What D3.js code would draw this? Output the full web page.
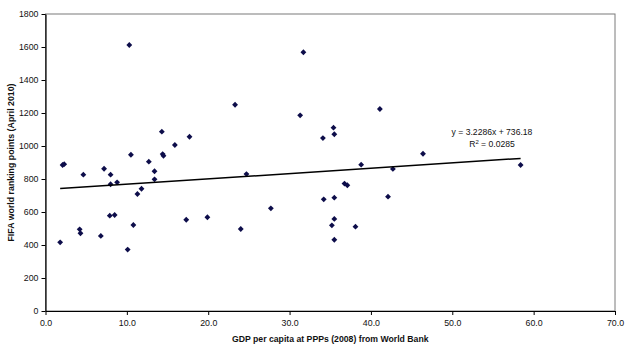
<!DOCTYPE html>
<html>
<head>
<meta charset="utf-8">
<script src="https://cdn.jsdelivr.net/npm/d3@7"></script>
<style>
  body { margin: 0; background: #fff; }
  svg text { font-family: "Liberation Sans", Arial, sans-serif; fill: #111; }
</style>
</head>
<body>
<svg id="chart" width="626" height="351"></svg>
<script>
// ---- data ----
const gdp = [1.8, 2.1, 2.3, 4.2, 4.3, 4.65, 6.8, 7.2, 7.9, 8.0, 8.0, 8.5, 8.8,
  10.1, 10.3, 10.5, 10.8, 11.3, 11.8, 12.7, 13.4, 13.4, 14.3, 14.4, 14.5, 15.9,
  17.3, 17.7, 19.9, 23.3, 24.0, 24.7, 27.7, 31.3, 31.7, 34.1, 34.2, 35.2, 35.4,
  35.5, 35.5, 35.5, 35.5, 36.75, 37.1, 38.1, 38.8, 41.1, 42.1, 42.7, 46.4, 58.4];
const fifa = [416, 885, 890, 495, 471, 826, 455, 862, 578, 826, 768, 582, 780,
  372, 1612, 947, 521, 709, 741, 905, 847, 798, 1087, 951, 941, 1006,
  553, 1056, 568, 1250, 497, 830, 622, 1186, 1568, 1048, 677, 519, 1111,
  1071, 687, 558, 432, 772, 762, 511, 887, 1224, 693, 861, 953, 885];

const xTicks = [0, 10, 20, 30, 40, 50, 60, 70];
const yTicks = [0, 200, 400, 600, 800, 1000, 1200, 1400, 1600, 1800];

const slope = 3.2286, intercept = 736.18;
const eqText = "y = 3.2286x + 736.18";

const xTitle = "GDP per capita at PPPs (2008) from World Bank";
const yTitle = "FIFA world ranking points (April 2010)";

// ---- layout ----
const svg = d3.select("#chart");
const plotL = 45.5, plotR = 615, plotT = 14, plotB = 311;

const x = d3.scaleLinear().domain([0, 70]).range([plotL, plotR]);
const y = d3.scaleLinear().domain([0, 1800]).range([plotB, plotT]);

// plot area border (grey)
svg.append("rect")
  .attr("x", plotL).attr("y", plotT)
  .attr("width", plotR - plotL).attr("height", plotB - plotT)
  .attr("fill", "none").attr("stroke", "#7a7a7a").attr("stroke-width", 1);

// axes
const xAxis = d3.axisBottom(x).tickValues(xTicks).tickFormat(d3.format(".1f"))
  .tickSize(4).tickSizeOuter(0).tickPadding(5);
const yAxis = d3.axisLeft(y).tickValues(yTicks).tickFormat(d3.format("d"))
  .tickSize(4).tickSizeOuter(0).tickPadding(3);

const gx = svg.append("g").attr("transform", `translate(0,${plotB})`).call(xAxis);
const gy = svg.append("g").attr("transform", `translate(${plotL},0)`).call(yAxis);

[gx, gy].forEach(g => {
  g.select(".domain").attr("stroke", "#000").attr("stroke-width", 1.2);
  g.selectAll(".tick line").attr("stroke", "#000");
  g.selectAll(".tick text")
    .style("font-family", "'Liberation Sans', Arial, sans-serif")
    .style("font-size", "8.8px").attr("fill", "#111");
});
gy.selectAll(".tick text").attr("x", -7);

// points
svg.append("g").selectAll("path")
  .data(gdp.map((g, i) => [g, fifa[i]]))
  .enter().append("path")
  .attr("d", d3.symbol(d3.symbolSquare, 17))
  .attr("transform", d => `translate(${x(d[0])},${y(d[1])}) rotate(45)`)
  .attr("fill", "#0d0d4a");

// linear trend line over the data range
const x0 = d3.min(gdp), x1 = d3.max(gdp);
svg.append("line")
  .attr("x1", x(x0)).attr("y1", y(slope * x0 + intercept))
  .attr("x2", x(x1)).attr("y2", y(slope * x1 + intercept))
  .attr("stroke", "#000").attr("stroke-width", 1.5);

// equation label
svg.append("text")
  .attr("x", 492).attr("y", 135)
  .attr("text-anchor", "middle").style("font-size", "8.6px")
  .text(eqText);
const r2 = svg.append("text")
  .attr("x", 492).attr("y", 146.5)
  .attr("text-anchor", "middle").style("font-size", "8.6px");
r2.append("tspan").text("R");
r2.append("tspan").text("2").attr("dy", -3).style("font-size", "6px");
r2.append("tspan").text(" = 0.0285").attr("dy", 3);

// axis titles
svg.append("text")
  .attr("x", (plotL + plotR) / 2).attr("y", 342)
  .attr("text-anchor", "middle")
  .style("font-size", "8.7px").style("font-weight", "bold")
  .text(xTitle);

svg.append("text")
  .attr("transform", `translate(14,${(plotT + plotB) / 2}) rotate(-90)`)
  .attr("text-anchor", "middle")
  .style("font-size", "8.8px").style("font-weight", "bold")
  .text(yTitle);
</script>
</body>
</html>
